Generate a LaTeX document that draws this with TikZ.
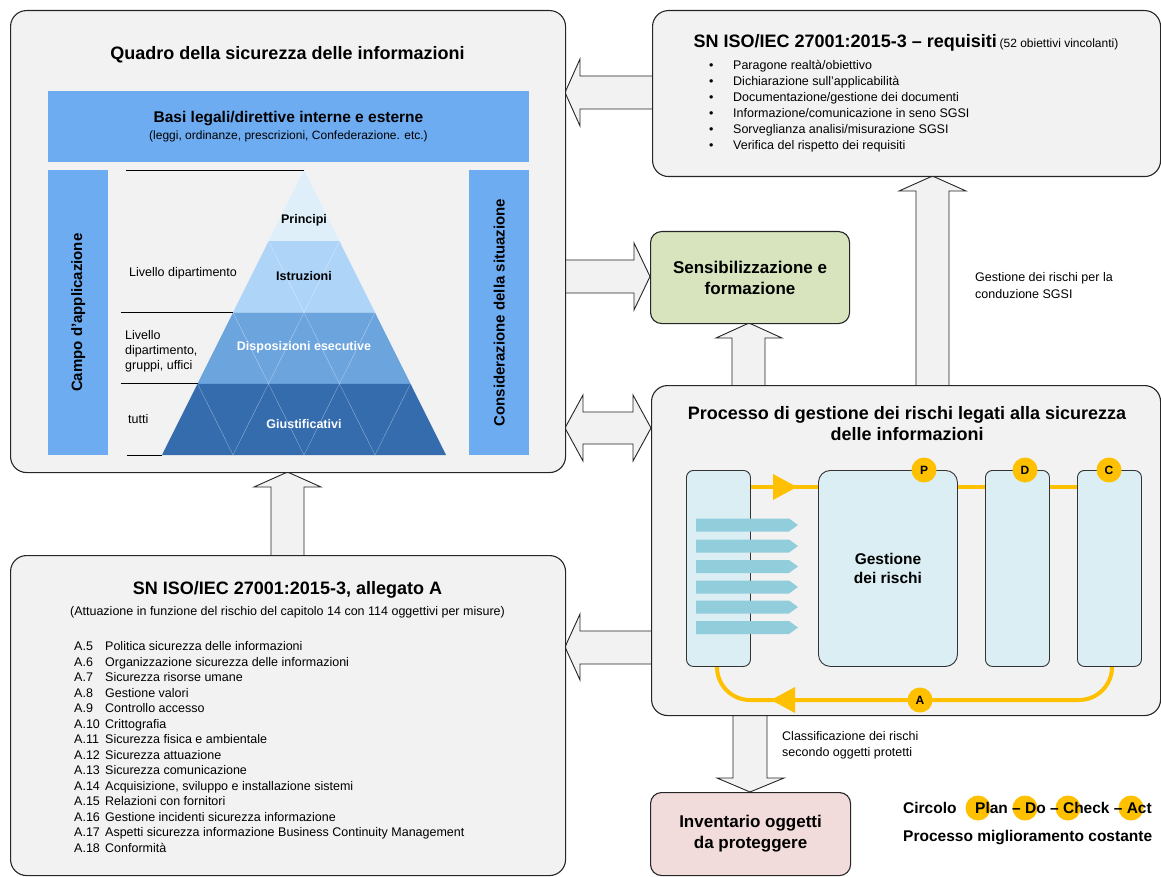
\documentclass[tikz,border=0pt]{standalone}
\usepackage{fontspec}
\setmainfont{Liberation Sans}
\definecolor{boxfill}{RGB}{242,242,242}
\definecolor{legalblue}{RGB}{110,172,242}
\definecolor{pyrA}{RGB}{222,239,250}
\definecolor{pyrB}{RGB}{174,212,248}
\definecolor{pyrC}{RGB}{108,164,222}
\definecolor{pyrD}{RGB}{52,108,174}
\definecolor{sensgreen}{RGB}{215,228,189}
\definecolor{invpink}{RGB}{242,220,219}
\definecolor{procblue}{RGB}{218,238,243}
\definecolor{chevblue}{RGB}{146,205,220}
\definecolor{pdcayellow}{RGB}{255,192,0}
\begin{document}
\begin{tikzpicture}[x=1pt,y=-1pt,
  bigbox/.style={draw=black!85, line width=1.1pt, fill=boxfill, rounded corners=16pt, inner sep=0pt, anchor=north west},
  smallbox/.style={draw=black!85, line width=1.1pt, rounded corners=11pt, inner sep=0pt, anchor=north west, align=center, font=\fontsize{17}{21}\selectfont\bfseries},
  innerrect/.style={draw=black!80, line width=0.9pt, fill=procblue, rounded corners=7pt, inner sep=0pt, anchor=north west},
  flatrect/.style={fill=legalblue, inner sep=0pt, anchor=north west},
  blockarrow/.style={draw=black!85, line width=0.9pt, fill=boxfill, line join=miter},
  ttl/.style={font=\fontsize{18}{21}\selectfont\bfseries, inner sep=0pt, align=center},
  sidettl/.style={font=\fontsize{15}{18}\selectfont\bfseries, inner sep=0pt, rotate=90},
  pyrlbl/.style={font=\fontsize{12.5}{15}\selectfont\bfseries, inner sep=0pt},
  lvl/.style={font=\fontsize{12.5}{15}\selectfont, inner sep=0pt, align=left, anchor=west},
  listtext/.style={font=\fontsize{12.5}{15.5}\selectfont, inner sep=0pt, anchor=base west},
  notetext/.style={font=\fontsize{12.5}{16.5}\selectfont, inner sep=0pt, align=left, anchor=west},
  pdca/.style={circle, fill=pdcayellow, minimum size=25pt, inner sep=0pt, font=\fontsize{12}{14}\selectfont\bfseries},
  yline/.style={draw=pdcayellow, line width=4pt},
  chevbar/.style={fill=chevblue},
  pyrgrid/.style={draw=white, draw opacity=0.45, line width=0.4pt},
  leader/.style={draw=black, line width=0.9pt},
  pdcalegend/.style={font=\fontsize{15.5}{18}\selectfont\bfseries, inner sep=0pt, anchor=base west},
]
\useasboundingbox (0,0) rectangle (1161,877);

% ---------- block arrows (drawn first, boxes cover their roots) ----------
% Requisiti -> Quadro
\draw[blockarrow] (655,76) -- (580,76) -- (580,59) -- (565,92.5) -- (580,126) -- (580,109) -- (655,109) -- cycle;
% Quadro -> Sensibilizzazione
\draw[blockarrow] (561,260) -- (634,260) -- (634,243) -- (650,276.5) -- (634,310) -- (634,293) -- (561,293) -- cycle;
% Quadro <-> Processo
\draw[blockarrow] (565,428) -- (583,395) -- (583,412) -- (633,412) -- (633,395) -- (651,428) -- (633,461) -- (633,444) -- (583,444) -- (583,461) -- cycle;
% Processo -> Allegato
\draw[blockarrow] (655,631) -- (580,631) -- (580,614) -- (565,647) -- (580,680) -- (580,664) -- (655,664) -- cycle;
% Processo -> Sensibilizzazione
\draw[blockarrow] (732,389) -- (732,338) -- (716,338) -- (749,323) -- (782,338) -- (765,338) -- (765,389) -- cycle;
% Processo -> Requisiti
\draw[blockarrow] (916,389) -- (916,191) -- (899,191) -- (932.5,176) -- (966,191) -- (949,191) -- (949,389) -- cycle;
% Allegato -> Quadro
\draw[blockarrow] (271,559) -- (271,487) -- (254,487) -- (287.5,472) -- (321,487) -- (304,487) -- (304,559) -- cycle;
% Processo -> Inventario
\draw[blockarrow] (733,711) -- (733,778) -- (717,778) -- (750,792) -- (784,778) -- (767,778) -- (767,711) -- cycle;

% ---------- main boxes ----------
\node[bigbox, minimum width=555pt, minimum height=462pt] (quadro) at (10,10) {};
\node[bigbox, minimum width=508pt, minimum height=166pt] (requisiti) at (652,10) {};
\node[bigbox, minimum width=509pt, minimum height=330pt] (processo) at (651,385) {};
\node[bigbox, minimum width=555pt, minimum height=320pt] (allegato) at (10,555) {};
\node[smallbox, fill=sensgreen, minimum width=199pt, minimum height=92pt] (sens) at (650,231) {Sensibilizzazione e\\formazione};
\node[smallbox, fill=invpink, minimum width=200pt, minimum height=83pt] (inventario) at (650,792) {Inventario oggetti\\da proteggere};

% ---------- Quadro content ----------
\node[ttl] (tquadro) at (287.5,55) {Quadro della sicurezza delle informazioni};
\node[flatrect, minimum width=481pt, minimum height=71pt] (basi) at (48,91) {};
\node[font=\fontsize{15.5}{18}\selectfont\bfseries, inner sep=0pt] (tbasi) at (288.5,119) {Basi legali/direttive interne e esterne};
\node[font=\fontsize{12}{14}\selectfont, inner sep=0pt] (tbasisub) at (288.5,136) {(leggi, ordinanze, prescrizioni, Confederazione. etc.)};
\node[flatrect, minimum width=60pt, minimum height=285pt] (campo) at (48,170) {};
\node[flatrect, minimum width=60pt, minimum height=285pt] (consid) at (469,170) {};
\node[sidettl] (tcampo) at (campo.center) {Campo d’applicazione};
\node[sidettl] (tconsid) at (consid.center) {Considerazione della situazione};

% pyramid
\fill[pyrA] (304,170) -- (339.5,241.25) -- (268.5,241.25) -- cycle;
\fill[pyrB] (268.5,241.25) -- (339.5,241.25) -- (375,312.5) -- (233,312.5) -- cycle;
\fill[pyrC] (233,312.5) -- (375,312.5) -- (410.5,383.75) -- (197.5,383.75) -- cycle;
\fill[pyrD] (197.5,383.75) -- (410.5,383.75) -- (446,455) -- (162,455) -- cycle;
\draw[pyrgrid] (233,455) -- (339.5,241.25) (304,455) -- (375,312.5) (375,455) -- (410.5,383.75)
               (375,455) -- (268.5,241.25) (304,455) -- (233,312.5) (233,455) -- (197.5,383.75);
\node[pyrlbl] (principi) at (304,220) {Principi};
\node[pyrlbl] (istruzioni) at (304,276) {Istruzioni};
\node[pyrlbl, text=white] (disposizioni) at (304,347) {Disposizioni esecutive};
\node[pyrlbl, text=white] (giustificativi) at (304,424) {Giustificativi};

% level leaders and labels
\draw[leader] (126,170) -- (304,170);
\draw[leader] (121,312.5) -- (233,312.5);
\draw[leader] (121,383.75) -- (197.5,383.75);
\draw[leader] (127,455) -- (162,455);
\node[lvl] (lv1) at (129,273) {Livello dipartimento};
\node[lvl] (lv2) at (125,351) {Livello\\dipartimento,\\gruppi, uffici};
\node[lvl] (lv3) at (128,419) {tutti};

% ---------- Requisiti content ----------
\node[inner sep=0pt] (treq) at (906,43) {{\fontsize{18}{21}\selectfont\bfseries SN ISO/IEC 27001:2015-3 – requisiti} {\fontsize{12}{14}\selectfont (52 obiettivi vincolanti)}};
\foreach \t [count=\i from 0] in {Paragone realtà/obiettivo, Dichiarazione sull’applicabilità, Documentazione/gestione dei documenti, Informazione/comunicazione in seno SGSI, Sorveglianza analisi/misurazione SGSI, Verifica del rispetto dei requisiti}{
  \node[listtext] (reqb\i) at (709,69.5+16*\i) {•};
  \node[listtext] (req\i) at (733,69.5+16*\i) {\t};
}

% ---------- labels on arrows ----------
\node[notetext] (lblsgsi) at (975,285.5) {Gestione dei rischi per la\\conduzione SGSI};
\node[notetext] (lblclass) at (782,745.5) {Classificazione dei rischi\\secondo oggetti protetti};

% ---------- Processo content ----------
\node[ttl] (tproc) at (907,424) {Processo di gestione dei rischi legati alla sicurezza\\delle informazioni};
\draw[yline, rounded corners=33pt] (717,664) -- (717,700) -- (1112,700) -- (1112,664);
\draw[yline] (745,487) -- (823,487) (952,487) -- (990,487) (1044,487) -- (1082,487);
\node[innerrect, minimum width=64pt, minimum height=196pt] (rin) at (686,470) {};
\node[innerrect, rounded corners=12pt, minimum width=139pt, minimum height=196pt, font=\fontsize{15.5}{18.5}\selectfont\bfseries, align=center] (rgest) at (818,470) {Gestione\\dei rischi};
\node[innerrect, minimum width=64pt, minimum height=196pt] (rdo) at (985,470) {};
\node[innerrect, minimum width=64pt, minimum height=196pt] (rcheck) at (1077,470) {};
\foreach \y in {525,546,566.5,587,607,627.5}{
  \fill[chevbar] (696,\y-6.5) -- (789,\y-6.5) -- (798,\y) -- (789,\y+6.5) -- (696,\y+6.5) -- cycle;
}
\fill[pdcayellow] (773,474) -- (797,487) -- (773,500) -- cycle;
\fill[pdcayellow] (795,687) -- (771,700) -- (795,713) -- cycle;
\node[pdca] (cp) at (924,470) {P};
\node[pdca] (cd) at (1025,470) {D};
\node[pdca] (cc) at (1109,470) {C};
\node[pdca] (ca) at (920,700) {A};

% ---------- Allegato content ----------
\node[ttl] (tall) at (287.5,590) {SN ISO/IEC 27001:2015-3, allegato A};
\node[font=\fontsize{12.5}{15}\selectfont, inner sep=0pt] (tallsub) at (287.5,612) {(Attuazione in funzione del rischio del capitolo 14 con 114 oggettivi per misure)};
\foreach \a/\t [count=\i from 0] in {A.5/Politica sicurezza delle informazioni, A.6/Organizzazione sicurezza delle informazioni, A.7/Sicurezza risorse umane, A.8/Gestione valori, A.9/Controllo accesso, A.10/Crittografia, A.11/Sicurezza fisica e ambientale, A.12/Sicurezza attuazione, A.13/Sicurezza comunicazione, {A.14/Acquisizione, sviluppo e installazione sistemi}, A.15/Relazioni con fornitori, A.16/Gestione incidenti sicurezza informazione, A.17/Aspetti sicurezza informazione Business Continuity Management, A.18/Conformità}{
  \node[listtext] (alg\i) at (74,650.5+15.5*\i) {\makebox[31pt][l]{\a}\t};
}

% ---------- PDCA legend ----------
\node[pdca] (lp) at (978,808) {};
\node[pdca] (ld) at (1025,808) {};
\node[pdca] (lc) at (1068,808) {};
\node[pdca] (la) at (1131,808) {};
\node[pdcalegend] (circolo) at (903,813.5) {Circolo};
\node[pdcalegend] (plan) at (975,813.5) {Plan – Do – Check – Act};
\node[pdcalegend] (miglior) at (903,841.5) {Processo miglioramento costante};
\end{tikzpicture}
\end{document}
